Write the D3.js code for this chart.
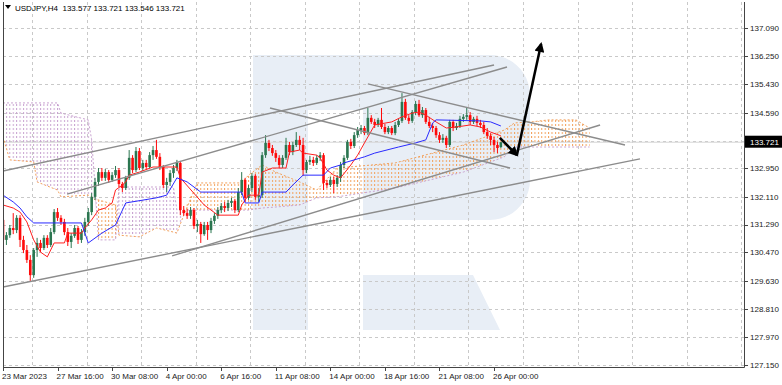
<!DOCTYPE html>
<html>
<head>
<meta charset="utf-8">
<script src="https://cdn.jsdelivr.net/npm/d3@7"></script>
<style>
  body { margin: 0; background: #fff; }
  svg { display: block; }
  text { font-family: "Liberation Sans", Arial, sans-serif; }
</style>
</head>
<body>
<div id="chart"></div>
<script>
// USDJPY H4 candles (bar 0 = 23 Mar 2023 00:00)
const opens = [
  131.43,130.84,130.98,131.19,131.13,131.49,130.84,130.54,130.25,129.80,
  130.54,130.75,130.60,130.90,130.69,131.07,131.66,131.49,131.37,131.07,
  130.78,130.96,131.19,130.84,131.07,131.37,131.66,132.11,132.55,132.84,
  132.67,132.84,132.61,132.75,132.90,132.49,132.37,132.67,133.26,132.90,
  133.46,132.96,133.11,132.99,133.34,133.49,133.29,132.99,132.46,132.55,
  132.81,132.96,133.11,131.72,131.63,131.55,131.72,131.25,131.31,131.01,
  131.28,131.13,131.40,131.55,131.72,131.84,131.78,131.93,131.99,131.72,
  132.25,132.61,132.08,132.37,132.73,132.11,132.16,133.34,133.70,133.55,
  133.40,133.26,133.05,133.26,133.64,133.43,133.64,133.79,133.64,132.90,
  133.14,133.20,133.11,133.26,133.34,132.52,132.46,132.61,132.49,132.67,
  133.05,133.26,133.73,133.61,133.93,134.08,134.14,133.99,134.44,134.32,
  134.23,134.38,134.17,134.02,134.14,133.99,134.23,134.35,134.91,134.44,
  134.35,134.61,134.85,134.52,134.67,134.32,134.20,134.14,133.93,133.79,
  133.85,133.64,134.32,134.14,134.20,134.41,134.47,134.52,134.32,134.41,
  134.29,134.23,134.02,133.91,133.79,133.64,133.577
];
const highs = [
  131.57,131.07,131.28,131.63,131.57,131.57,130.96,130.69,130.39,130.60,
  130.90,130.84,130.98,130.98,131.19,131.75,131.78,131.57,131.46,131.19,
  131.04,131.28,131.25,131.16,131.49,131.78,132.22,132.67,132.96,132.96,
  132.93,132.90,132.84,133.02,132.96,132.55,132.73,133.49,133.34,133.58,
  133.55,133.20,133.20,133.43,133.61,133.79,133.40,133.05,132.67,132.90,
  133.05,133.20,133.17,131.84,131.75,131.81,131.78,131.43,131.37,131.37,
  131.37,131.49,131.63,131.81,131.93,131.96,132.02,132.08,132.05,132.37,
  132.84,132.67,132.46,132.81,132.78,132.37,133.43,133.93,133.79,133.64,
  133.49,133.34,133.34,133.85,133.73,133.73,134.02,133.91,133.85,133.20,
  133.32,133.29,133.34,133.43,133.40,132.61,132.70,132.70,132.75,133.14,
  133.34,133.79,133.82,134.02,134.17,134.23,134.20,134.73,134.52,134.41,
  134.44,134.73,134.26,134.20,134.20,134.32,134.41,135.17,135.00,134.52,
  134.67,134.94,134.97,134.76,134.73,134.47,134.29,134.20,134.02,133.96,
  133.91,134.38,134.38,134.29,134.50,134.55,134.76,134.61,134.47,134.50,
  134.38,134.32,134.14,133.99,133.88,133.73,133.721
];
const lows = [
  130.75,130.69,130.90,131.01,131.04,130.63,130.45,130.16,129.63,129.72,
  130.34,130.48,130.54,130.60,130.63,131.01,131.40,131.28,130.98,130.66,
  130.60,130.90,130.72,130.75,130.96,131.25,131.57,132.02,132.43,132.58,
  132.58,132.52,132.55,132.67,132.40,132.25,132.31,132.61,132.81,132.84,
  132.90,132.87,132.90,132.96,133.20,133.23,132.90,132.37,132.25,132.43,
  132.67,132.87,131.57,131.55,131.46,131.46,131.16,131.07,130.75,130.96,
  130.84,131.04,131.31,131.46,131.63,131.66,131.69,131.81,131.63,131.66,
  132.16,131.96,132.02,132.25,132.02,131.96,132.08,133.26,133.46,133.32,
  133.14,132.96,132.96,133.20,133.34,133.34,133.58,133.49,132.73,132.81,
  133.05,133.02,133.05,133.17,132.31,132.37,132.40,132.22,132.40,132.55,
  132.96,133.20,133.52,133.55,133.85,133.96,133.93,133.93,134.26,134.14,
  134.17,134.11,133.96,133.96,133.93,133.93,134.17,134.29,134.38,134.26,
  134.29,134.52,134.47,134.44,134.26,134.14,134.02,133.85,133.70,133.70,
  133.55,133.58,134.05,134.08,134.14,134.32,134.38,134.23,134.26,134.20,
  134.14,133.96,133.82,133.64,133.43,133.40,133.546
];
const closes = [
  130.84,130.98,131.19,131.13,131.49,130.84,130.54,130.25,129.80,130.54,
  130.75,130.60,130.90,130.69,131.07,131.66,131.49,131.37,131.07,130.78,
  130.96,131.19,130.84,131.07,131.37,131.66,132.11,132.55,132.84,132.67,
  132.84,132.61,132.75,132.90,132.49,132.37,132.67,133.26,132.90,133.46,
  132.96,133.11,132.99,133.34,133.49,133.29,132.99,132.46,132.55,132.81,
  132.96,133.11,131.72,131.63,131.55,131.72,131.25,131.31,131.01,131.28,
  131.13,131.40,131.55,131.72,131.84,131.78,131.93,131.99,131.72,132.25,
  132.61,132.08,132.37,132.73,132.11,132.16,133.34,133.70,133.55,133.40,
  133.26,133.05,133.26,133.64,133.43,133.64,133.79,133.64,132.90,133.14,
  133.20,133.11,133.26,133.34,132.52,132.46,132.61,132.49,132.67,133.05,
  133.26,133.73,133.61,133.93,134.08,134.14,133.99,134.44,134.32,134.23,
  134.38,134.17,134.02,134.14,133.99,134.23,134.35,134.91,134.44,134.35,
  134.61,134.85,134.52,134.67,134.32,134.20,134.14,133.93,133.79,133.85,
  133.64,134.32,134.14,134.20,134.41,134.47,134.52,134.32,134.41,134.29,
  134.23,134.02,133.91,133.79,133.64,133.55,133.721
];

// Ichimoku lines: [bar index] + value
const tenkanBars = [0,3,5,7,9,11,13,15,18,19,23,24,26,28,30,32,33,35,36,37,40,44,51,52,59,61,63,69,70,72,75,76,79,83,84,87,88,92,93,95,97,99,102,104,106,109,114,117,120,122,124,127,130,133,137,140,143,146];
const tenkanVals = [131.87,131.78,131.66,131.37,130.84,130.48,130.34,130.75,130.75,131.04,131.04,131.19,131.43,131.72,131.78,131.93,132.31,132.46,132.55,132.75,132.84,132.99,132.99,132.67,131.87,131.72,131.57,131.57,131.87,132.16,132.16,132.84,132.96,132.96,133.43,133.49,133.40,133.34,133.26,132.90,132.75,132.67,133.05,133.34,133.70,134.23,134.32,134.47,134.58,134.61,134.52,134.32,134.14,134.17,134.23,134.17,134.02,133.91];

const kijunBars = [0,3,5,7,9,23,25,29,33,36,45,48,51,54,58,70,71,75,76,83,85,88,94,96,99,100,106,109,116,121,124,126,127,140,143,146];
const kijunVals = [132.16,131.96,131.78,131.52,131.34,131.34,130.75,131.04,131.28,131.93,132.08,132.16,132.67,132.55,132.25,132.25,131.93,131.93,132.25,132.25,132.46,132.75,132.75,132.96,133.05,133.11,133.29,133.40,133.58,133.70,133.79,134.29,134.38,134.35,134.32,134.20];

// Senkou spans (already shifted 26 bars forward)
const cloudBars = [0,2,9,10,16,17,25,26,27,28,33,34,40,45,50,51,53,57,70,72,76,80,87,92,98,115,135,147,150,155,160,168,172];
const spanA = [133.88,133.20,133.14,132.55,132.31,132.11,132.16,132.11,132.02,132.02,131.87,130.98,130.93,131.19,131.07,131.04,131.57,132.52,132.52,132.75,133.05,132.84,132.55,132.31,132.96,133.11,133.64,134.08,134.29,134.32,134.38,134.38,134.14];
const spanB = [134.88,134.88,134.88,134.88,134.88,134.58,134.38,133.79,132.40,130.84,130.84,132.40,132.40,132.40,132.40,131.72,131.72,131.72,131.72,131.72,131.78,131.81,131.87,132.08,132.11,132.37,132.84,133.29,133.58,133.58,133.58,133.58,133.58];

// axis ticks (133.770 sits under the last-price box, grid only)
const priceTicks = [127.150,127.970,128.810,129.630,130.470,131.290,132.110,132.950,133.770,134.590,135.430,136.250,137.090];
const hiddenTick = 133.770;
const timeTickBars = [0,16,32,48,64,80,96,112,128,144];
const timeLabels = ["23 Mar 2023","27 Mar 16:00","30 Mar 08:00","4 Apr 00:00","6 Apr 16:00","11 Apr 08:00","14 Apr 00:00","18 Apr 16:00","21 Apr 08:00","26 Apr 00:00"];

// drawn trend lines: [bar1, price1, bar2, price2]
const trendLines = [
  [0, 129.45, 186.8, 133.23],
  [49.6, 130.37, 175.1, 134.23],
  [0, 132.87, 144, 136.00],
  [18.8, 132.19, 147.8, 135.94],
  [78.3, 134.73, 148.7, 132.96],
  [107, 135.44, 182.4, 133.64]
];
// forecast arrows: [bar, price]
const arrowDown = [[145.7, 133.85], [150.7, 133.34]];
const arrowUp = [[150.7, 133.34], [157.8, 136.62]];

const lastPrice = 133.721;
const header = "USDJPY,H4  133.577 133.721 133.546 133.721";

const W = 782, H = 385;
const plotL = 3, plotR = 744, plotT = 2, plotB = 367;

const svg = d3.select("#chart").append("svg")
    .attr("width", W)
    .attr("height", H);

const x = d3.scaleLinear().domain([0, 217]).range([3, 3 + 3.41 * 217]);
const y = d3.scaleLinear().domain([127.15, 137.09]).range([365, 28]);

const defs = svg.append("defs");
defs.append("clipPath").attr("id", "plot")
    .append("rect").attr("x", plotL).attr("y", plotT)
    .attr("width", plotR - plotL).attr("height", plotB - plotT);

// hatch patterns for the cloud
function hatch(id, color) {
    const p = defs.append("pattern").attr("id", id)
        .attr("patternUnits", "userSpaceOnUse")
        .attr("x", x(0) - 0.5).attr("y", 0)
        .attr("width", 3.41).attr("height", 4);
    p.append("rect").attr("x", 0).attr("y", 0).attr("width", 1).attr("height", 2).attr("fill", color);
}
hatch("kumoUp", "#f2a15c");
hatch("kumoDn", "#c9a3d1");

const plot = svg.append("g").attr("clip-path", "url(#plot)");

// watermark logo
plot.append("path")
    .attr("d", "M253,55 H490 C512,55 530,73 530,95 V180 C530,202 512,220 490,220 H363 V110 H308 V330 H253 Z M363,275 H473 L500,330 H363 Z")
    .attr("fill", "#e8eef6");

// grid
plot.append("g").selectAll("line")
    .data(priceTicks)
    .enter().append("line")
    .attr("x1", plotL).attr("x2", plotR)
    .attr("y1", d => Math.round(y(d)) + 0.5).attr("y2", d => Math.round(y(d)) + 0.5)
    .attr("stroke", "#c9c9c9").attr("stroke-dasharray", "3,3");
plot.append("g").selectAll("line")
    .data(d3.range(8.5, 217, 16))
    .enter().append("line")
    .attr("x1", d => Math.round(x(d)) + 0.5).attr("x2", d => Math.round(x(d)) + 0.5)
    .attr("y1", plotT).attr("y2", plotB)
    .attr("stroke", "#c9c9c9").attr("stroke-dasharray", "3,3");

// bid line
plot.append("line")
    .attr("x1", plotL).attr("x2", plotR)
    .attr("y1", y(lastPrice)).attr("y2", y(lastPrice))
    .attr("stroke", "#d6d6d6");

// Ichimoku cloud: orange where span A is above span B, thistle where below
const cloud = cloudBars.map((b, i) => ({b: b, a: spanA[i], s: spanB[i]}));
const upKumo = d3.area().x(d => x(d.b)).y0(d => y(d.s)).y1(d => y(Math.max(d.a, d.s)));
const dnKumo = d3.area().x(d => x(d.b)).y0(d => y(d.s)).y1(d => y(Math.min(d.a, d.s)));
plot.append("path").attr("d", dnKumo(cloud)).attr("fill", "url(#kumoDn)");
plot.append("path").attr("d", upKumo(cloud)).attr("fill", "url(#kumoUp)");
plot.append("path")
    .attr("d", d3.line().x(d => x(d.b)).y(d => y(d.s))(cloud))
    .attr("fill", "none").attr("stroke", "#c9a3d1").attr("stroke-dasharray", "2,2");
plot.append("path")
    .attr("d", d3.line().x(d => x(d.b)).y(d => y(d.a))(cloud))
    .attr("fill", "none").attr("stroke", "#f2a15c").attr("stroke-dasharray", "2,2");

// candles
const candles = opens.map((o, i) => ({i: i, o: o, h: highs[i], l: lows[i], c: closes[i]}));
const bull = "#2b7650", bear = "#ff0a0a";
const cg = plot.append("g");
cg.selectAll(".wick")
    .data(candles)
    .enter().append("line")
    .attr("class", "wick")
    .attr("x1", d => x(d.i)).attr("x2", d => x(d.i))
    .attr("y1", d => y(d.h)).attr("y2", d => y(d.l))
    .attr("stroke", d => d.c >= d.o ? bull : bear)
    .attr("stroke-width", 1);
cg.selectAll(".body")
    .data(candles)
    .enter().append("rect")
    .attr("class", "body")
    .attr("x", d => x(d.i) - 1.3)
    .attr("width", 2.6)
    .attr("y", d => y(Math.max(d.o, d.c)))
    .attr("height", d => Math.max(1, Math.abs(y(d.o) - y(d.c))))
    .attr("fill", d => d.c >= d.o ? bull : bear);

// tenkan / kijun
plot.append("path")
    .attr("d", d3.line().x(d => x(d[0])).y(d => y(d[1]))(tenkanBars.map((b, i) => [b, tenkanVals[i]])))
    .attr("fill", "none").attr("stroke", "#ff2020").attr("stroke-width", 1);
plot.append("path")
    .attr("d", d3.line().x(d => x(d[0])).y(d => y(d[1]))(kijunBars.map((b, i) => [b, kijunVals[i]])))
    .attr("fill", "none").attr("stroke", "#2a2aff").attr("stroke-width", 1);

// trend lines
plot.append("g").selectAll("line")
    .data(trendLines)
    .enter().append("line")
    .attr("x1", d => x(d[0])).attr("y1", d => y(d[1]))
    .attr("x2", d => x(d[2])).attr("y2", d => y(d[3]))
    .attr("stroke", "#8c8c8c").attr("stroke-width", 1.4);

// arrows
defs.append("marker").attr("id", "head")
    .attr("viewBox", "0 0 10 10").attr("refX", 8).attr("refY", 5)
    .attr("markerWidth", 11).attr("markerHeight", 10)
    .attr("markerUnits", "userSpaceOnUse")
    .attr("orient", "auto")
    .append("path").attr("d", "M0,0 L10,5 L0,10 Z").attr("fill", "#000");
const arrowLine = d3.line().x(d => x(d[0])).y(d => y(d[1]));
[arrowDown, arrowUp].forEach(a => {
    plot.append("path").attr("d", arrowLine(a))
        .attr("fill", "none").attr("stroke", "#000").attr("stroke-width", 2.5)
        .attr("marker-end", "url(#head)");
});

// frame
svg.append("line").attr("x1", plotL + 0.5).attr("x2", plotL + 0.5).attr("y1", plotT).attr("y2", plotB + 0.5).attr("stroke", "#444");
svg.append("line").attr("x1", plotL).attr("x2", plotR + 0.5).attr("y1", plotB + 0.5).attr("y2", plotB + 0.5).attr("stroke", "#444");
svg.append("line").attr("x1", plotR + 0.5).attr("x2", plotR + 0.5).attr("y1", plotT).attr("y2", plotB + 0.5).attr("stroke", "#444");

// right price axis
const ya = svg.append("g");
ya.selectAll("line")
    .data(priceTicks)
    .enter().append("line")
    .attr("x1", plotR).attr("x2", plotR + 4)
    .attr("y1", d => Math.round(y(d)) + 0.5).attr("y2", d => Math.round(y(d)) + 0.5)
    .attr("stroke", "#444");
ya.selectAll("text")
    .data(priceTicks.filter(d => d !== hiddenTick))
    .enter().append("text")
    .attr("x", plotR + 6)
    .attr("y", d => y(d))
    .attr("dy", "0.35em")
    .style("font-size", "8px")
    .style("fill", "#1a1a1a")
    .text(d => d.toFixed(3));

// last price box
svg.append("rect")
    .attr("x", plotR + 1).attr("y", y(lastPrice) - 6.5)
    .attr("width", W - plotR - 1).attr("height", 12)
    .attr("fill", "#000");
svg.append("text")
    .attr("x", plotR + 6).attr("y", y(lastPrice))
    .attr("dy", "0.35em")
    .style("font-size", "8px")
    .style("fill", "#fff")
    .text(lastPrice.toFixed(3));

// time axis
const xa = svg.append("g");
xa.selectAll("line")
    .data(timeTickBars)
    .enter().append("line")
    .attr("x1", d => Math.round(x(d)) + 0.5).attr("x2", d => Math.round(x(d)) + 0.5)
    .attr("y1", plotB).attr("y2", plotB + 4)
    .attr("stroke", "#444");
xa.selectAll("text")
    .data(timeTickBars)
    .enter().append("text")
    .attr("x", d => x(d) - 1)
    .attr("y", 379)
    .style("font-size", "8px")
    .style("fill", "#1a1a1a")
    .text((d, i) => timeLabels[i]);

// header
svg.append("path").attr("d", "M5,5 L11,5 L8,9 Z").attr("fill", "#000");
svg.append("text")
    .attr("x", 15).attr("y", 10.5)
    .style("font-size", "8px")
    .style("fill", "#000")
    .style("white-space", "pre")
    .text(header);
</script>
</body>
</html>
